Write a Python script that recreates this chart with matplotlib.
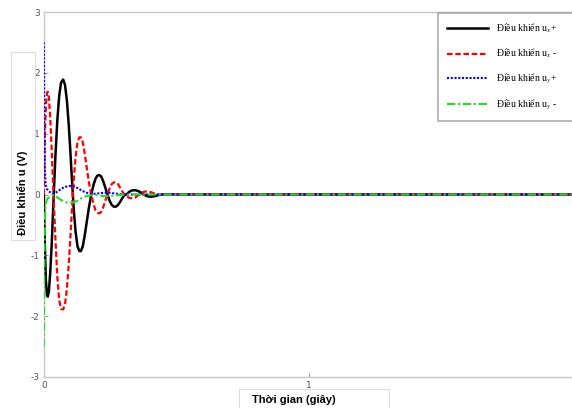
import matplotlib
matplotlib.use("Agg")
import matplotlib.pyplot as plt
from matplotlib.patches import Rectangle

# ---- data ----
t_x = [0.000, 0.004, 0.008, 0.012, 0.015, 0.019, 0.024, 0.030, 0.037, 0.044,
       0.051, 0.058, 0.065, 0.073, 0.080, 0.087, 0.094, 0.100, 0.106, 0.113,
       0.120, 0.127, 0.134, 0.140, 0.147, 0.154, 0.162, 0.170, 0.179, 0.187,
       0.195, 0.202, 0.209, 0.216, 0.224, 0.232, 0.240, 0.248, 0.256, 0.264,
       0.272, 0.280, 0.288, 0.296, 0.304, 0.312, 0.320, 0.328, 0.336, 0.345,
       0.354, 0.363, 0.372, 0.381, 0.390, 0.398, 0.406, 0.415, 0.425, 0.435,
       0.450, 0.470, 0.500, 0.600, 1.000, 1.500, 2.000]
ux_plus = [0.00, -0.85, -1.42, -1.66, -1.68, -1.60, -1.30, -0.80, -0.05, 0.65,
           1.22, 1.62, 1.84, 1.89, 1.80, 1.55, 1.15, 0.72, 0.25, -0.25,
           -0.62, -0.85, -0.93, -0.93, -0.85, -0.68, -0.45, -0.22, 0.00, 0.15,
           0.26, 0.31, 0.32, 0.30, 0.22, 0.11, 0.00, -0.10, -0.17, -0.20,
           -0.20, -0.17, -0.12, -0.06, -0.01, 0.00, 0.035, 0.06, 0.07, 0.07,
           0.06, 0.04, 0.015, -0.01, -0.028, -0.035, -0.035, -0.03, -0.018, -0.008,
           0.00, 0.005, 0.00, 0.00, 0.00, 0.00, 0.00]
ux_minus = [0.00, 0.95, 1.48, 1.67, 1.69, 1.60, 1.28, 0.72, -0.05, -0.75,
            -1.35, -1.74, -1.88, -1.89, -1.80, -1.55, -1.15, -0.72, -0.25, 0.25,
            0.62, 0.86, 0.94, 0.94, 0.86, 0.68, 0.44, 0.20, 0.00, -0.15,
            -0.26, -0.30, -0.31, -0.29, -0.21, -0.10, 0.00, 0.10, 0.17, 0.20,
            0.20, 0.17, 0.11, 0.05, 0.00, -0.03, -0.05, -0.06, -0.06, -0.05,
            -0.02, 0.01, 0.035, 0.048, 0.05, 0.045, 0.035, 0.02, 0.008, 0.00,
            -0.005, 0.00, 0.00, 0.00, 0.00, 0.00, 0.00]

t_y = [0.000, 0.002, 0.004, 0.007, 0.012, 0.020, 0.028, 0.036, 0.045, 0.055,
       0.065, 0.075, 0.085, 0.095, 0.105, 0.115, 0.125, 0.135, 0.145, 0.155,
       0.165, 0.180, 0.195, 0.210, 0.225, 0.240, 0.255, 0.270, 0.290, 0.320,
       0.400, 1.000, 2.000]
uy_plus = [2.50, 1.20, 0.40, 0.16, 0.09, 0.05, 0.025, 0.012, 0.03, 0.06,
           0.09, 0.115, 0.13, 0.14, 0.14, 0.13, 0.11, 0.085, 0.06, 0.04,
           0.025, 0.012, 0.012, 0.02, 0.028, 0.03, 0.025, 0.015, 0.005, 0.00,
           0.00, 0.00, 0.00]
uy_minus = [-2.50, -1.20, -0.40, -0.15, -0.08, -0.045, -0.02, -0.008, -0.03, -0.06,
            -0.09, -0.115, -0.13, -0.135, -0.135, -0.125, -0.105, -0.08, -0.055, -0.035,
            -0.022, -0.012, -0.012, -0.018, -0.025, -0.027, -0.022, -0.013, -0.005, 0.00,
            0.00, 0.00, 0.00]

labels = ["Điều khiển u$_x$+", "Điều khiển u$_x$ -", "Điều khiển u$_y$+", "Điều khiển u$_y$ -"]
x_ticks = [0, 1]
y_ticks = [-3, -2, -1, 0, 1, 2, 3]

plt.rcParams['mathtext.fontset'] = 'stix'
plt.rcParams['axes.unicode_minus'] = False

W, H = 572, 408
fig = plt.figure(figsize=(W / 100, H / 100), dpi=100)
ax = fig.add_axes([43.8 / W, 31 / H, 530.4 / W, 365 / H])

ax.plot(t_x, ux_plus, color='black', lw=1.8, ls='-', label=labels[0], zorder=3)
ax.plot(t_x, ux_minus, color='red', lw=1.6, ls=(0, (2.5, 1.2)), label=labels[1], zorder=3)
ax.plot(t_y, uy_plus, color='blue', lw=1.5, ls=(0, (1, 0.8)), label=labels[2], zorder=3)
ax.plot(t_y, uy_minus, color='#22dd22', lw=1.5, ls=(0, (4, 1.3, 1, 1.3)), label=labels[3], zorder=3)

ax.set_xlim(0, 2)
ax.set_ylim(-3, 3)
ax.set_xticks(x_ticks)
ax.set_yticks(y_ticks)
ax.tick_params(direction='in', length=3, width=0.6, colors='#888888',
               labelsize=6.5, labelcolor='#555555', pad=3)
for s in ax.spines.values():
    s.set_color('#c8c8c8')
    s.set_linewidth(1.0)

leg = ax.legend(loc='upper left', mode='expand',
                bbox_to_anchor=(438 / W, 1 - 116 / H, 145 / W, 103 / H),
                bbox_transform=fig.transFigure, frameon=True, fancybox=False,
                prop={'family': 'Liberation Serif', 'size': 7},
                handlelength=4.2, handletextpad=0.9, labelspacing=1.2,
                borderpad=0.9, borderaxespad=0)
leg.get_frame().set_edgecolor('#999999')
leg.get_frame().set_linewidth(1.2)

# y label with box
fig.patches.append(Rectangle((11 / W, 1 - 240 / H), 24 / W, 188 / H,
                             transform=fig.transFigure, fill=False,
                             edgecolor='#dddddd', lw=0.8))
fig.text(23 / W, 1 - 193 / H, "Điều khiển u (V)", rotation=90, ha='center', va='center',
         fontsize=8, fontweight='bold', family='Liberation Sans')

# x label with box
fig.patches.append(Rectangle((239 / W, -0.02), 150 / W, (408 - 389) / H + 0.02,
                             transform=fig.transFigure, fill=False,
                             edgecolor='#dddddd', lw=0.8))
fig.text(294 / W, 1 - 400 / H, "Thời gian (giây)", ha='center', va='center',
         fontsize=8, fontweight='bold', family='Liberation Sans')

fig.savefig("out.png", dpi=100)
